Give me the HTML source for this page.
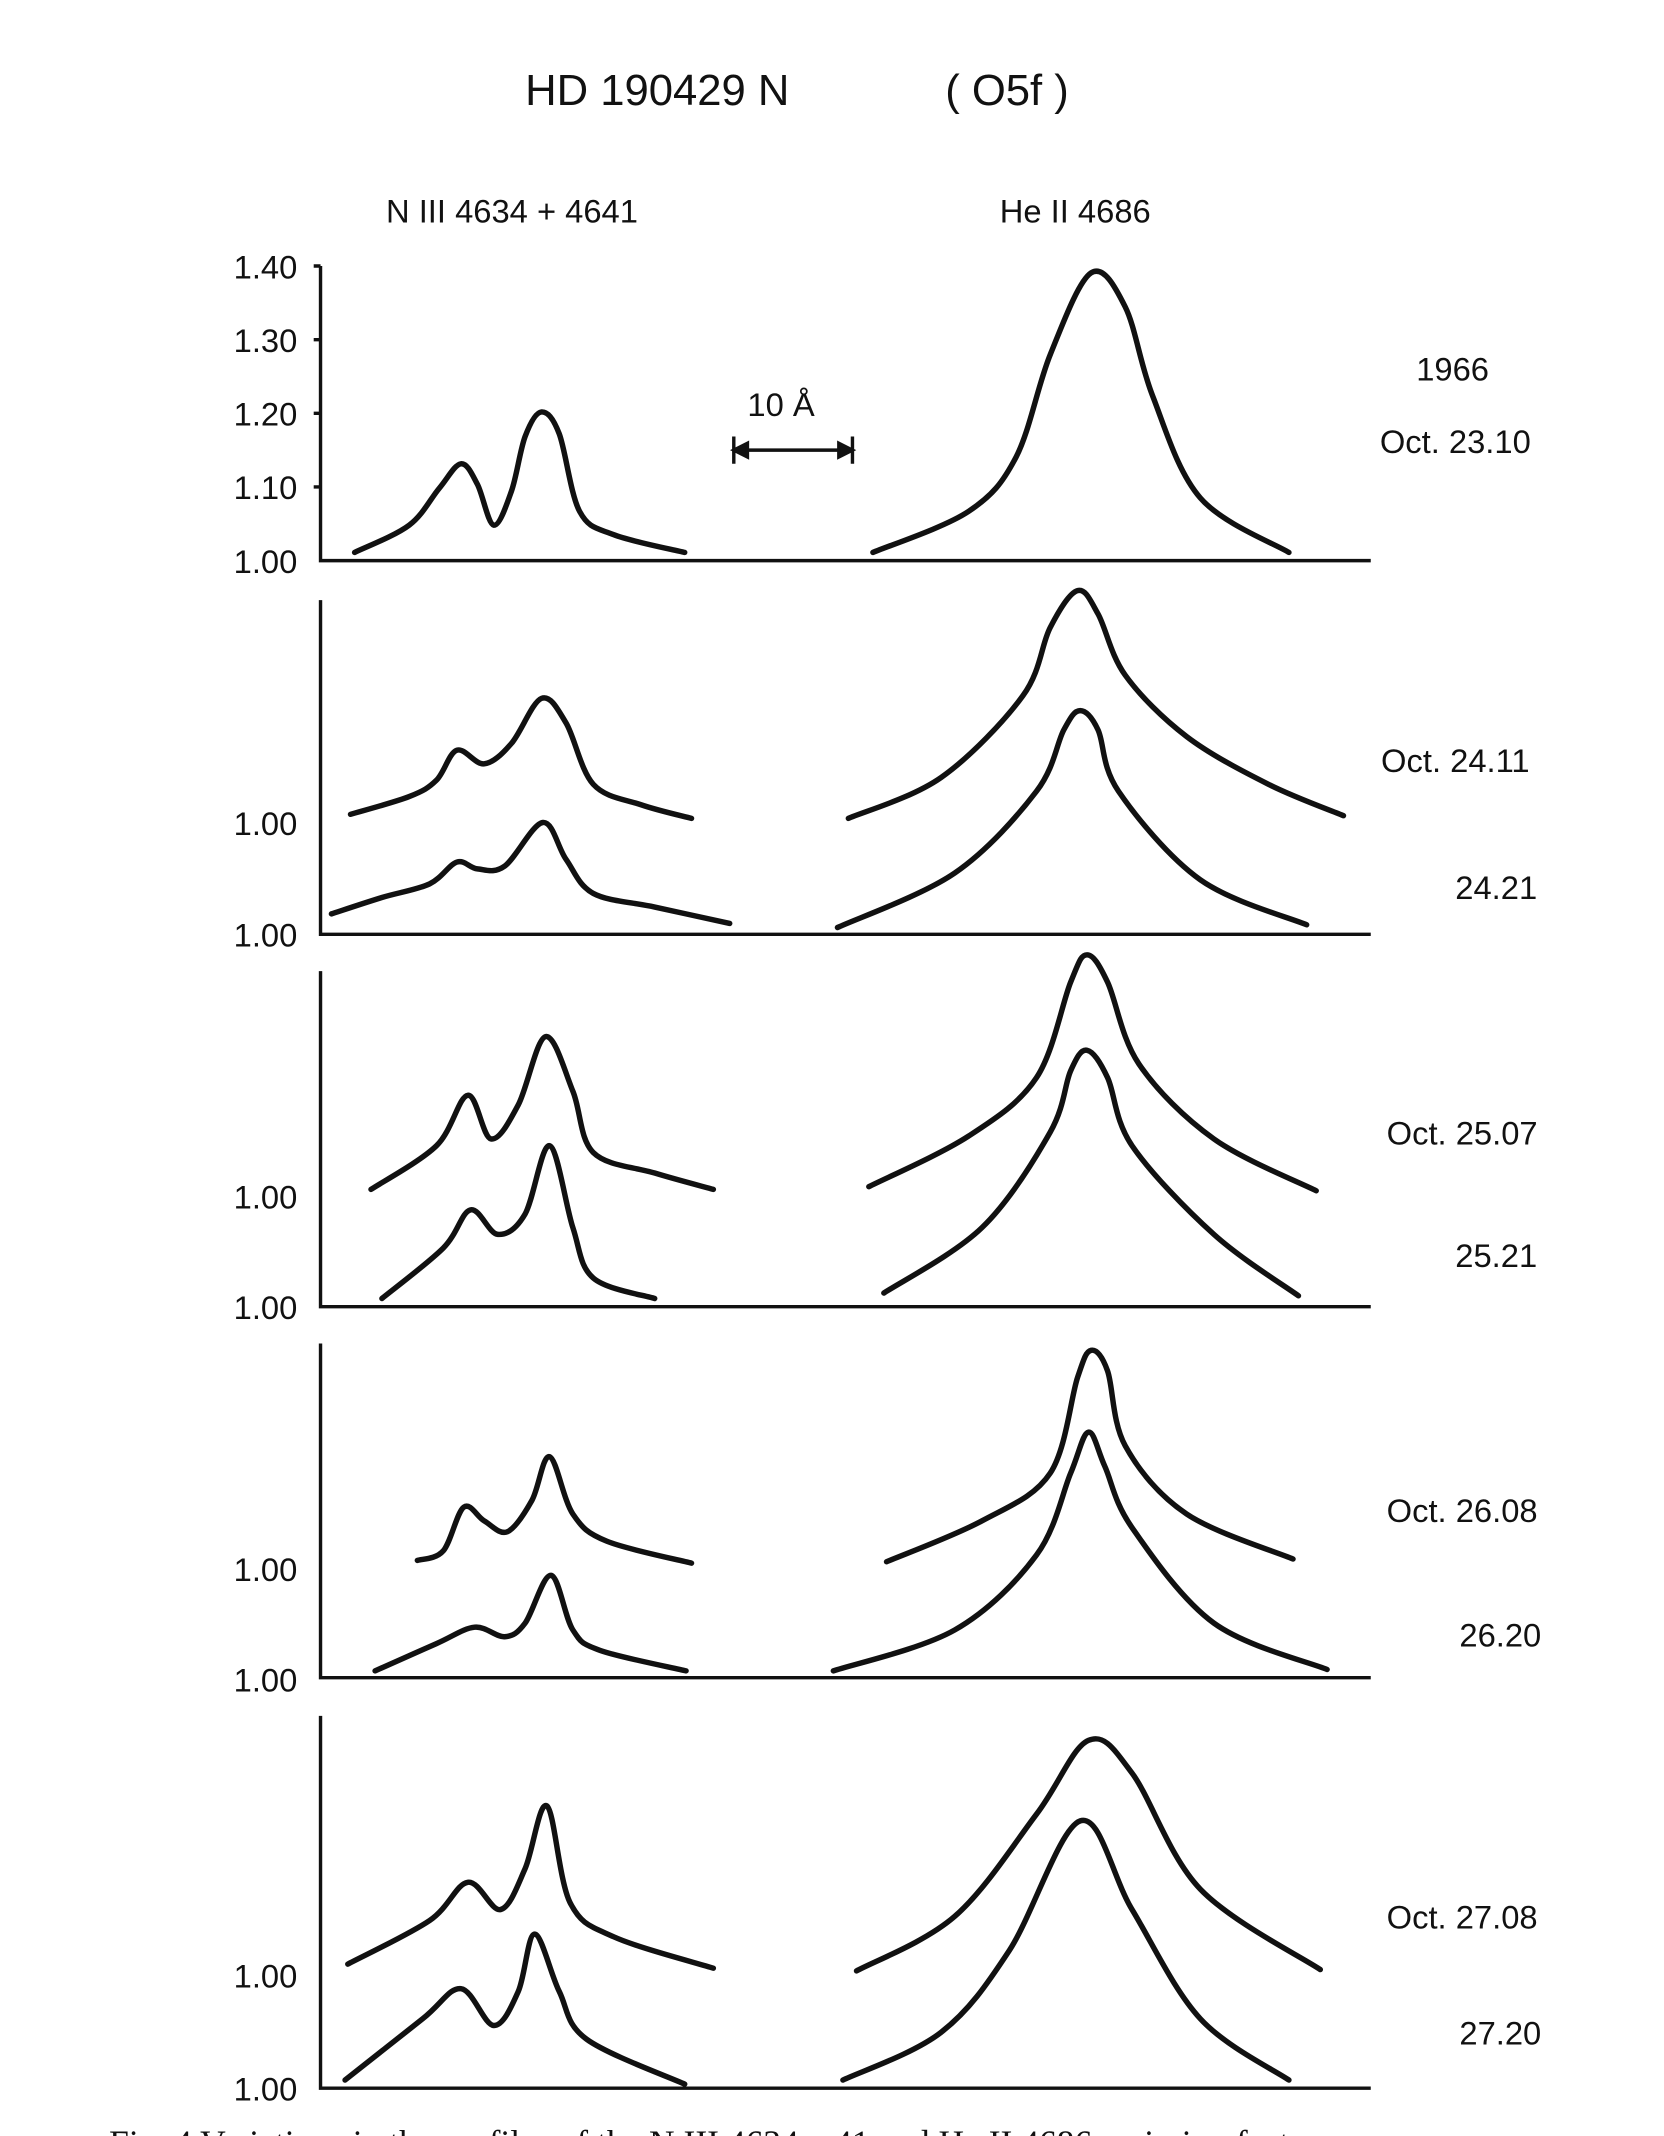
<!DOCTYPE html>
<html><head><meta charset="utf-8"><style>
html,body{margin:0;padding:0;background:#fff;}
svg{display:block;}
text{font-family:"Liberation Sans",sans-serif;fill:#111;}
</style></head><body>
<svg id="s" width="1664" height="2136" viewBox="0 0 1220 1566" xmlns="http://www.w3.org/2000/svg">
<text x="385" y="77" font-size="32">HD 190429 N</text>
<text x="693" y="77" font-size="32">( O5f )</text>
<text x="283" y="163" font-size="24">N III 4634 + 4641</text>
<text x="733" y="163" font-size="24">He II 4686</text>
<g stroke="#111" stroke-width="2.5" fill="none">
<path d="M235 195V411H1005M230 195H235M230 249H235M230 303H235M230 357H235"/>
<path d="M235 440V685H1005"/>
<path d="M235 712V958H1005"/>
<path d="M235 985V1230H1005"/>
<path d="M235 1258V1531H1005"/>
<path d="M538 330H625M538 320V340M625 320V340"/>
<path d="M538 330l10 -5v10zM625 330l-10 -5v10z" fill="#111"/>
</g>
<g font-size="24" text-anchor="end">
<text x="218" y="204">1.40</text><text x="218" y="258">1.30</text><text x="218" y="312">1.20</text>
<text x="218" y="366">1.10</text><text x="218" y="420">1.00</text>
<text x="218" y="612">1.00</text><text x="218" y="694">1.00</text>
<text x="218" y="886">1.00</text><text x="218" y="967">1.00</text>
<text x="218" y="1159">1.00</text><text x="218" y="1240">1.00</text>
<text x="218" y="1457">1.00</text><text x="218" y="1540">1.00</text>
</g>
<text x="548" y="305" font-size="24">10  Å</text>
<g font-size="24" text-anchor="middle">
<text x="1065" y="279">1966</text><text x="1067" y="332">Oct. 23.10</text>
<text x="1067" y="566">Oct. 24.11</text><text x="1097" y="659">24.21</text>
<text x="1072" y="839">Oct. 25.07</text><text x="1097" y="929">25.21</text>
<text x="1072" y="1116">Oct. 26.08</text><text x="1100" y="1207">26.20</text>
<text x="1072" y="1414">Oct. 27.08</text><text x="1100" y="1499">27.20</text>
</g>
<text x="80" y="1580" font-size="26" style="font-family:'Liberation Serif',serif">Fig. 4 Variations in the profiles of the N III 4634—41 and He II 4686 emission features</text>
<g id="curves" stroke="#111" stroke-width="4" fill="none" stroke-linecap="round" stroke-linejoin="round"></g>
</svg>
<script>
var C=[
[[260,405],[300,385],[322,358],[338,340],[350,355],[362,385],[375,360],[385,320],[397,302],[410,318],[425,375],[450,392],[502,405]],
[[640,405],[710,375],[745,335],[770,260],[800,200],[825,225],[845,290],[880,365],[945,405]],
[[257,597],[300,584],[320,572],[335,550],[355,560],[375,545],[397,512],[415,530],[435,575],[470,590],[507,600]],
[[243,670],[280,658],[315,648],[335,632],[350,637],[370,635],[398,603],[415,630],[435,655],[480,665],[535,677]],
[[622,600],[690,570],[750,510],[770,460],[790,433],[805,450],[825,495],[870,540],[930,575],[985,598]],
[[614,680],[700,640],[760,580],[780,535],[792,521],[805,535],[820,580],[880,645],[958,678]],
[[272,872],[320,840],[343,803],[360,835],[380,810],[400,760],[420,800],[435,845],[480,860],[523,872]],
[[280,952],[325,915],[345,887],[365,905],[385,890],[403,840],[420,900],[435,937],[480,952]],
[[637,870],[710,833],[760,790],[785,720],[797,700],[812,720],[835,780],[890,835],[965,873]],
[[648,948],[720,900],[770,830],[785,785],[797,770],[812,790],[830,840],[890,905],[952,950]],
[[306,1144],[325,1137],[340,1105],[355,1115],[372,1123],[390,1100],[403,1068],[420,1110],[445,1130],[507,1146]],
[[275,1225],[320,1205],[348,1193],[370,1200],[385,1190],[404,1155],[420,1195],[440,1210],[503,1225]],
[[650,1145],[720,1115],[770,1080],[790,1010],[800,990],[812,1005],[825,1060],[870,1110],[948,1143]],
[[611,1225],[700,1195],[760,1140],[785,1080],[798,1050],[810,1075],[830,1120],[890,1190],[973,1224]],
[[255,1440],[315,1408],[343,1380],[367,1400],[385,1370],[401,1324],[418,1395],[450,1420],[523,1443]],
[[253,1525],[310,1480],[338,1458],[362,1485],[380,1460],[392,1418],[410,1460],[430,1495],[502,1528]],
[[628,1445],[700,1405],[760,1330],[798,1276],[830,1300],[880,1385],[968,1444]],
[[618,1525],[690,1490],[740,1430],[792,1335],[830,1400],[880,1480],[945,1525]]
];
var g=document.getElementById('curves'),ns='http://www.w3.org/2000/svg';
C.forEach(function(p){
 var d='M'+p[0][0]+' '+p[0][1];
 for(var i=0;i<p.length-1;i++){
  var p0=p[i-1]||p[i],p1=p[i],p2=p[i+1],p3=p[i+2]||p2;
  var c1=[p1[0]+(p2[0]-p0[0])/6,p1[1]+(p2[1]-p0[1])/6];
  var c2=[p2[0]-(p3[0]-p1[0])/6,p2[1]-(p3[1]-p1[1])/6];
  d+='C'+c1+' '+c2+' '+p2;
 }
 var e=document.createElementNS(ns,'path');e.setAttribute('d',d);g.appendChild(e);
});
</script>
</body></html>
